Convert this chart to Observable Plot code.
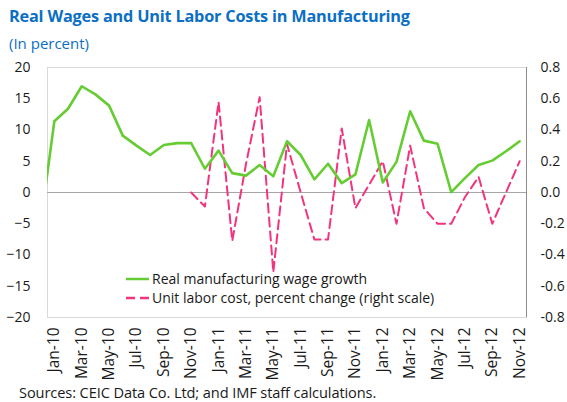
<!DOCTYPE html>
<html>
<head>
<meta charset="utf-8">
<script src="https://cdn.jsdelivr.net/npm/d3@7"></script>
<script src="https://cdn.jsdelivr.net/npm/@observablehq/plot@0.6"></script>
<style>
  html, body { margin: 0; padding: 0; background: #fff; }
  body { width: 567px; height: 402px; position: relative; overflow: hidden; font-family: "Open Sans", sans-serif; }
  #title { position: absolute; left: 9px; top: 5px; font-size: 16.3px; font-weight: bold; color: #0B6FC4; white-space: nowrap; letter-spacing: -0.2px; }
  #subtitle { position: absolute; left: 9px; top: 33px; font-size: 15px; color: #0B6FC4; white-space: nowrap; }
  #chart { position: absolute; left: 0; top: 55px; }
  #legend { position: absolute; left: 126px; top: 269px; font-size: 14px; color: #1a1a1a; line-height: 19px; }
  #legend div { display: flex; align-items: center; white-space: nowrap; }
  #legend svg { margin-right: 3px; }
  #caption { position: absolute; left: 19px; top: 382px; font-size: 14.6px; color: #1a1a1a; white-space: nowrap; letter-spacing: -0.1px; }
</style>
</head>
<body>
<div id="title">Real Wages and Unit Labor Costs in Manufacturing</div>
<div id="subtitle">(In percent)</div>
<div id="chart"></div>
<div id="legend"></div>
<div id="caption">Sources: CEIC Data Co. Ltd; and IMF staff calculations.</div>
<script>
// Months (Dec-09 only carries the clipped start of the wage line)
const months = ["Dec-09",
  "Jan-10","Feb-10","Mar-10","Apr-10","May-10","Jun-10","Jul-10","Aug-10","Sep-10","Oct-10","Nov-10","Dec-10",
  "Jan-11","Feb-11","Mar-11","Apr-11","May-11","Jun-11","Jul-11","Aug-11","Sep-11","Oct-11","Nov-11","Dec-11",
  "Jan-12","Feb-12","Mar-12","Apr-12","May-12","Jun-12","Jul-12","Aug-12","Sep-12","Oct-12","Nov-12"];

// Real manufacturing wage growth (left scale, percent)
const wageGrowth = [-4.9,
  11.4, 13.4, 17.0, 15.7, 13.9, 9.1, 7.5, 6.0, 7.6, 7.9, 7.9, 3.8,
  6.7, 3.1, 2.7, 4.4, 2.6, 8.2, 6.0, 2.1, 4.6, 1.5, 2.9, 11.6,
  1.6, 4.9, 13.0, 8.3, 7.8, 0.05, 2.3, 4.4, 5.1, 6.6, 8.2];

// Unit labor cost, percent change (right scale)
const unitLaborCost = [null,
  null, null, null, null, null, null, null, null, null, null, 0.0, -0.09,
  0.58, -0.31, 0.18, 0.61, -0.51, 0.31, 0.0, -0.30, -0.30, 0.41, -0.10, 0.05,
  0.20, -0.20, 0.30, -0.10, -0.20, -0.20, -0.03, 0.10, -0.20, 0.0, 0.20];

const leftTicks = [20, 15, 10, 5, 0, -5, -10, -15, -20];
const rightTicks = [0.8, 0.6, 0.4, 0.2, 0.0, -0.2, -0.4, -0.6, -0.8];
const xTickLabels = ["Jan-10","Mar-10","May-10","Jul-10","Sep-10","Nov-10","Jan-11","Mar-11","May-11","Jul-11","Sep-11","Nov-11","Jan-12","Mar-12","May-12","Jul-12","Sep-12","Nov-12"];

const ratio = 25; // right scale -> left scale
const GREEN = "#66CC33";
const PINK = "#F2337D";

const wageData = months.map((m, i) => ({i, m, v: wageGrowth[i]}));
const ulcData = months.map((m, i) => ({i, m, v: unitLaborCost[i] == null ? null : unitLaborCost[i] * ratio}))
  .filter(d => d.v != null);
const xTicks = xTickLabels.map(l => months.indexOf(l));

const chart = Plot.plot({
  width: 567,
  height: 327,
  marginLeft: 47,
  marginRight: 41,
  marginTop: 12,
  marginBottom: 65,
  style: {fontFamily: "Open Sans, sans-serif", fontSize: "14px", color: "#1a1a1a", background: "white"},
  x: {domain: [0.5, 35.5], axis: null},
  y: {domain: [-20, 20], axis: null},
  marks: [
    // frame: light on left/top/bottom, darker on right
    Plot.frame({stroke: "#D9D9D9", strokeWidth: 1}),
    Plot.ruleX([35.5], {stroke: "#8C8C8C", strokeWidth: 1}),
    Plot.ruleY([0], {stroke: "#A6A6A6", strokeWidth: 1}),
    Plot.axisY({anchor: "left", ticks: leftTicks, tickSize: 0, tickPadding: 17, fontSize: 14, label: null}),
    Plot.axisY({anchor: "right", ticks: rightTicks.map(t => t * ratio), tickSize: 0, tickPadding: 14, fontSize: 14, label: null,
      tickFormat: d => (d / ratio).toFixed(1)}),
    Plot.axisX({ticks: xTicks, tickSize: 0, tickPadding: 10, tickRotate: -90, fontSize: 15.5, label: null,
      tickFormat: d => months[d]}),
    Plot.line(ulcData, {x: "i", y: "v", stroke: PINK, strokeWidth: 2, strokeDasharray: "9,5", clip: true}),
    Plot.line(wageData, {x: "i", y: "v", stroke: GREEN, strokeWidth: 2.6, clip: true})
  ]
});
document.getElementById("chart").appendChild(chart);

const legendItems = [
  {label: "Real manufacturing wage growth", color: GREEN, dash: null},
  {label: "Unit labor cost, percent change (right scale)", color: PINK, dash: "9,5"}
];
const legend = document.getElementById("legend");
for (const it of legendItems) {
  const row = document.createElement("div");
  row.innerHTML = `<svg width="23" height="10"><line x1="0" y1="5" x2="23" y2="5" stroke="${it.color}" stroke-width="2.5" ${it.dash ? `stroke-dasharray="${it.dash}"` : ""}/></svg><span>${it.label}</span>`;
  legend.appendChild(row);
}
</script>
</body>
</html>
